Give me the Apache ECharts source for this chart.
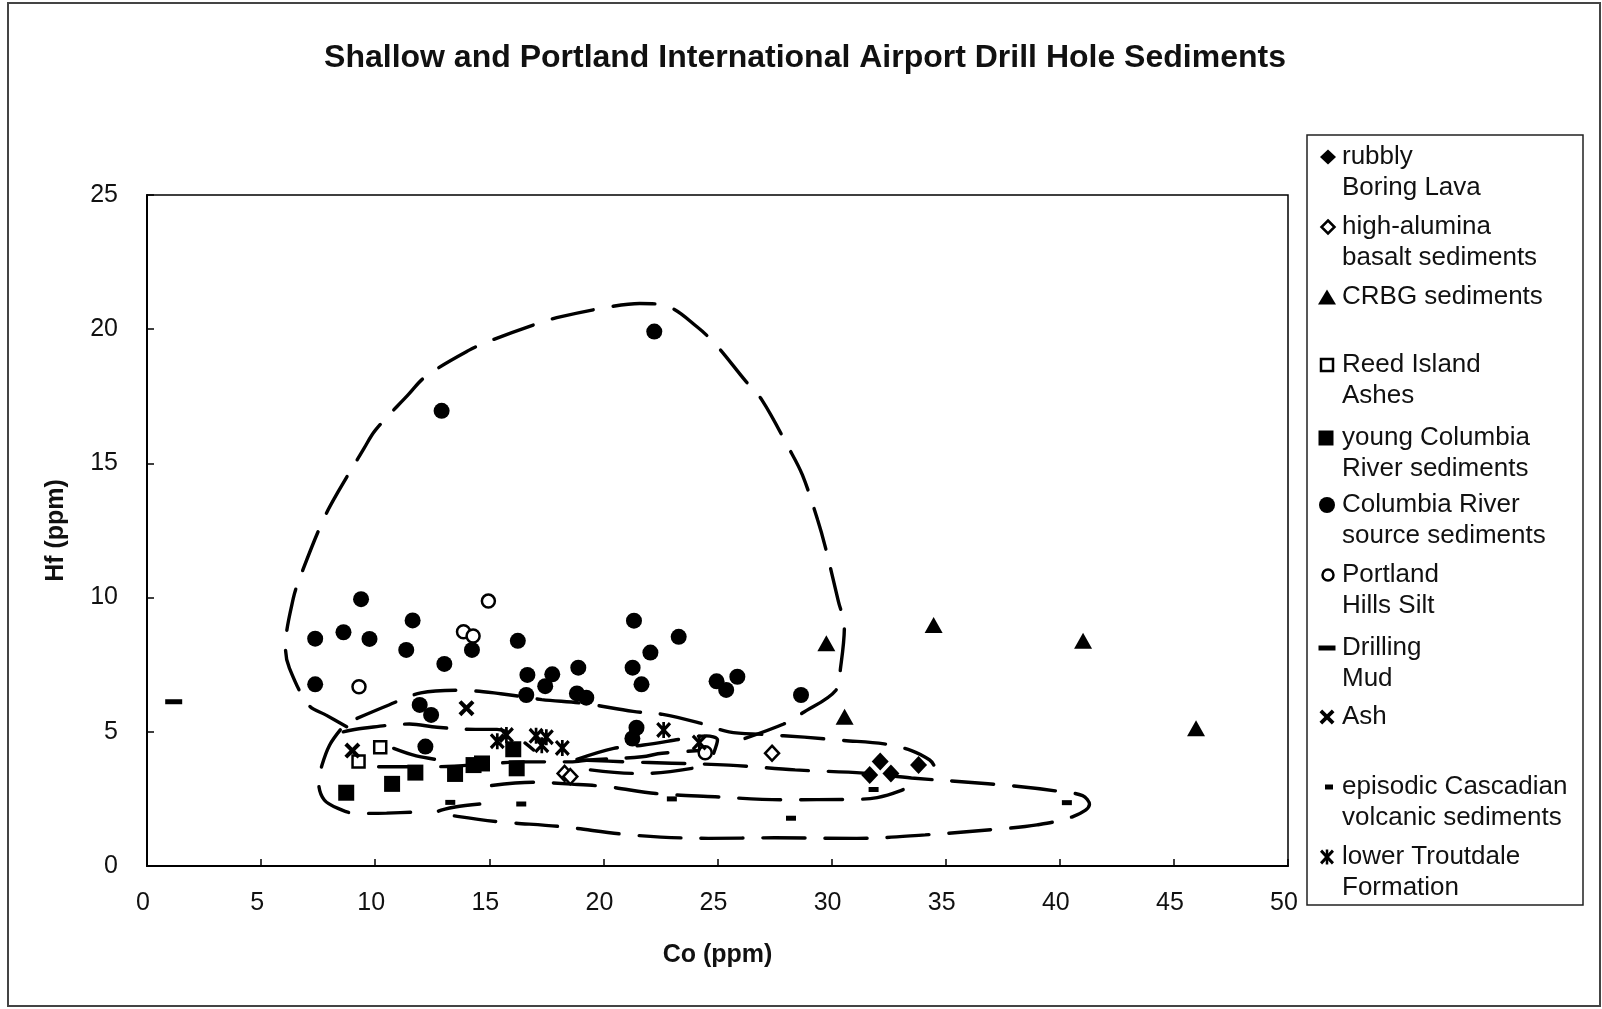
<!DOCTYPE html>
<html>
<head>
<meta charset="utf-8">
<script src="https://cdn.jsdelivr.net/npm/echarts@6/dist/echarts.min.js"></script>
<style>
  html, body { margin: 0; padding: 0; background: #fff; }
  #chart { width: 1602px; height: 1009px; }
</style>
</head>
<body>
<div id="chart"></div>
<script>
// Axis ticks (ppm)
const coTicks = [0, 5, 10, 15, 20, 25, 30, 35, 40, 45, 50];
const hfTicks = [0, 5, 10, 15, 20, 25];

// Samples: [Co ppm, Hf ppm]
const rubblyBoringLava = [[32.13, 3.89], [31.67, 3.39], [32.6, 3.45], [33.81, 3.76]];
const highAluminaBasalt = [[27.39, 4.2], [18.3, 3.45], [18.55, 3.33]];
const crbgSediments = [[29.77, 8.3], [34.47, 8.98], [41.02, 8.39], [30.57, 5.56], [45.97, 5.13]];
const reedIslandAshes = [[10.22, 4.42], [9.27, 3.89]];
const youngColumbiaRiver = [[8.73, 2.73], [10.74, 3.06], [11.76, 3.48], [13.5, 3.43], [14.31, 3.76],
  [14.68, 3.82], [16.05, 4.35], [16.2, 3.64]];
const columbiaRiverSource = [[22.23, 19.91], [12.91, 16.96], [9.38, 9.94], [7.37, 8.47], [8.61, 8.71],
  [9.75, 8.46], [11.64, 9.15], [11.36, 8.05], [13.03, 7.53], [14.24, 8.05], [16.25, 8.39], [7.37, 6.77],
  [21.34, 9.14], [23.3, 8.54], [22.06, 7.95], [21.28, 7.39], [21.67, 6.77], [18.9, 7.39], [16.67, 7.12],
  [17.76, 7.14], [16.62, 6.37], [17.45, 6.7], [18.84, 6.43], [19.25, 6.27], [24.96, 6.88], [25.87, 7.05],
  [25.38, 6.56], [28.66, 6.37], [11.95, 6.0], [12.45, 5.63], [12.2, 4.45], [21.45, 5.15], [21.27, 4.75]];
const portlandHillsSilt = [[14.96, 9.87], [13.87, 8.73], [14.29, 8.57], [9.29, 6.68], [24.46, 4.22]];
const drillingMud = [[1.17, 6.12]];
const ashSamples = [[9.0, 4.3], [14.0, 5.88]];
const cascadianVolcanic = [[13.29, 2.37], [16.4, 2.31], [23.0, 2.5], [31.84, 2.85], [28.22, 1.78], [40.31, 2.36]];
const lowerTroutdale = [[15.35, 4.65], [15.75, 4.88], [17.05, 4.85], [17.5, 4.8], [17.3, 4.5], [18.2, 4.4],
  [22.64, 5.07], [24.2, 4.6]];

// Hand-drawn dashed envelopes around sample groups: [Co ppm, Hf ppm]
const envelopeSource = [[8.75, 5.19], [7.83, 5.63], [7.08, 6.0], [6.24, 7.37], [6.07, 8.11], [6.41, 9.97],
  [6.83, 11.03], [7.72, 12.89], [8.34, 13.89], [9.51, 15.56], [10.01, 16.24], [11.44, 17.55], [12.2, 18.23],
  [14.12, 19.22], [15.13, 19.6], [17.15, 20.22], [18.15, 20.47], [20.33, 20.84], [21.59, 20.96],
  [22.84, 20.84], [24.1, 20.09], [24.94, 19.41], [26.2, 18.1], [26.95, 17.36], [28.13, 15.56],
  [28.72, 14.57], [29.39, 12.89], [29.72, 11.9], [30.3, 9.85], [30.56, 8.92], [30.39, 7.37],
  [30.2, 6.56], [28.7, 5.69], [27.9, 5.29], [25.78, 4.63]];
const envelopeUpperBand = [[9.2, 5.5], [10.6, 6.0], [12.0, 6.45], [13.6, 6.55], [15.5, 6.42], [17.3, 6.2],
  [19.1, 6.06], [21.3, 5.76], [22.6, 5.65], [24.25, 5.32], [25.5, 5.0], [27.0, 4.9], [28.8, 4.8],
  [30.5, 4.68], [32.3, 4.55], [33.5, 4.3], [34.3, 3.95], [34.48, 3.76]];
const envelopeCascadian = [[19.0, 3.95], [21.0, 3.88], [23.0, 3.83], [25.5, 3.76], [28.4, 3.58],
  [31.4, 3.46], [33.5, 3.28], [35.7, 3.14], [38.0, 2.98], [39.8, 2.8], [41.0, 2.62], [41.3, 2.3],
  [40.6, 1.85], [39.0, 1.53], [37.2, 1.37], [34.1, 1.16], [31.1, 1.03], [27.5, 1.05], [24.6, 1.03],
  [21.3, 1.15], [18.1, 1.47], [15.4, 1.65], [13.6, 1.85], [12.7, 2.0], [13.5, 2.2], [14.9, 2.33]];
const envelopeLavaBase = [[15.1, 3.0], [16.9, 3.12], [18.6, 3.05], [20.2, 2.95], [22.3, 2.7], [24.9, 2.58],
  [27.8, 2.47], [30.9, 2.48], [32.0, 2.55], [33.0, 2.8], [33.74, 3.1]];
const envelopeYoungLeft = [[8.47, 5.07], [8.0, 4.5], [7.67, 3.76], [7.52, 3.14], [7.77, 2.46], [8.5, 2.1],
  [9.13, 1.96], [10.5, 1.97], [12.05, 2.02]];
const envelopeTroutdaleTop = [[8.6, 5.0], [9.46, 5.13], [11.5, 5.29], [12.71, 5.17], [14.39, 5.09],
  [15.34, 5.09], [16.2, 4.8], [16.94, 4.32]];
const envelopeYoungMid = [[10.15, 3.7], [11.84, 3.7], [12.7, 3.7], [15.12, 3.82], [16.5, 3.88], [18.55, 3.88],
  [19.4, 3.95], [21.69, 4.07], [22.57, 4.2], [24.69, 4.32]];
const envelopeAshLink = [[10.81, 4.38], [11.8, 4.1], [12.85, 3.95]];
const envelopeTroutdaleRight = [[18.84, 3.97], [20.45, 4.38], [21.76, 4.51], [23.66, 4.76], [24.5, 4.85],
  [25.0, 4.7], [24.83, 4.2]];
const envelopeMidLow = [[19.43, 3.58], [21.32, 3.45], [21.9, 3.45], [23.88, 3.64]];

const envelopes = [envelopeSource, envelopeUpperBand, envelopeCascadian, envelopeLavaBase,
  envelopeYoungLeft, envelopeTroutdaleTop, envelopeYoungMid, envelopeAshLink,
  envelopeTroutdaleRight, envelopeMidLow];

const FONT = '"Liberation Sans", Arial, Helvetica, sans-serif';
const INK = '#111';

// Cross and asterisk outlines on a 10x10 box
const crossPts = [[1.8, 0], [5, 3.2], [8.2, 0], [10, 1.8], [6.8, 5], [10, 8.2], [8.2, 10], [5, 6.8],
  [1.8, 10], [0, 8.2], [3.2, 5], [0, 1.8]];
const starCrossPts = [[1.5, 0], [5, 3.5], [8.5, 0], [10, 1.5], [6.5, 5], [10, 8.5], [8.5, 10], [5, 6.5],
  [1.5, 10], [0, 8.5], [3.5, 5], [0, 1.5]];
const barPts = [[4.1, 0], [5.9, 0], [5.9, 10], [4.1, 10]];
function toPath(list) {
  return list.map(function (p, i) { return (i ? 'L' : 'M') + p[0] + ',' + p[1]; }).join(' ') + ' Z';
}
const CROSS_SYMBOL = 'path://' + toPath(crossPts);
const STAR_SYMBOL = 'path://' + toPath(starCrossPts) + ' ' + toPath(barPts);

const filled = { color: '#000', opacity: 1 };
const hollow = { color: '#fff', borderColor: '#000', borderWidth: 2.5, opacity: 1 };

function scatter(name, data, symbol, size, style) {
  return {
    name: name, type: 'scatter', data: data, symbol: symbol, symbolSize: size,
    itemStyle: style, z: 5, silent: true, animation: false
  };
}

const series = envelopes.map(function (pts) {
  return {
    type: 'line', data: pts, smooth: 0.35, symbol: 'none', showSymbol: false, silent: true,
    animation: false, z: 2,
    lineStyle: { color: '#000', width: 3.4, type: [42, 20], cap: 'round', opacity: 1 }
  };
}).concat([
  scatter('rubbly Boring Lava', rubblyBoringLava, 'diamond', [17, 18], filled),
  scatter('high-alumina basalt sediments', highAluminaBasalt, 'diamond', [14, 15], hollow),
  scatter('CRBG sediments', crbgSediments, 'triangle', [18, 16], filled),
  scatter('Reed Island Ashes', reedIslandAshes, 'rect', [12, 12], hollow),
  scatter('young Columbia River sediments', youngColumbiaRiver, 'rect', [16, 16], filled),
  scatter('Columbia River source sediments', columbiaRiverSource, 'circle', 16, filled),
  scatter('Portland Hills Silt', portlandHillsSilt, 'circle', 13, hollow),
  scatter('Drilling Mud', drillingMud, 'rect', [17, 5], filled),
  scatter('Ash', ashSamples, CROSS_SYMBOL, [16, 16], filled),
  scatter('episodic Cascadian volcanic sediments', cascadianVolcanic, 'rect', [10, 5], filled),
  scatter('lower Troutdale Formation', lowerTroutdale, STAR_SYMBOL, [15, 16], filled)
]);

// Legend panel
const LEG = { x: 1307, y: 135, w: 276, h: 770, textX: 1342, lineH: 30.5, font: 26 };
const legendEntries = [
  { y: 157, text: 'rubbly\nBoring Lava', icon: 'diamond', fill: true, w: 16, h: 15, cx: 1328 },
  { y: 227, text: 'high-alumina\nbasalt sediments', icon: 'diamond', fill: false, w: 13, h: 13, cx: 1328 },
  { y: 297, text: 'CRBG sediments', icon: 'triangle', fill: true, w: 18, h: 15, cx: 1327 },
  { y: 365, text: 'Reed Island\nAshes', icon: 'rect', fill: false, w: 12, h: 12, cx: 1327 },
  { y: 438, text: 'young Columbia\nRiver sediments', icon: 'rect', fill: true, w: 15, h: 15, cx: 1326 },
  { y: 505, text: 'Columbia River\nsource sediments', icon: 'circle', fill: true, w: 16, h: 16, cx: 1327 },
  { y: 575, text: 'Portland\nHills Silt', icon: 'circle', fill: false, w: 11, h: 11, cx: 1328 },
  { y: 648, text: 'Drilling\nMud', icon: 'rect', fill: true, w: 17, h: 5, cx: 1327 },
  { y: 717, text: 'Ash', icon: 'cross', fill: true, w: 15, h: 15, cx: 1327 },
  { y: 787, text: 'episodic Cascadian\nvolcanic sediments', icon: 'rect', fill: true, w: 8, h: 5, cx: 1329 },
  { y: 857, text: 'lower Troutdale\nFormation', icon: 'star', fill: true, w: 14, h: 15, cx: 1327 }
];

function scalePts(list, cx, cy, w, h) {
  return list.map(function (p) { return [cx - w / 2 + p[0] * w / 10, cy - h / 2 + p[1] * h / 10]; });
}

function legendIcon(e) {
  const cx = e.cx, cy = e.y, w = e.w, h = e.h;
  const style = e.fill ? { fill: '#000' } : { fill: '#fff', stroke: '#000', lineWidth: 2.5 };
  switch (e.icon) {
    case 'diamond':
      return [{ type: 'polygon', shape: { points: [[cx, cy - h / 2], [cx + w / 2, cy], [cx, cy + h / 2], [cx - w / 2, cy]] }, style: style }];
    case 'triangle':
      return [{ type: 'polygon', shape: { points: [[cx, cy - h / 2], [cx + w / 2, cy + h / 2], [cx - w / 2, cy + h / 2]] }, style: style }];
    case 'rect':
      return [{ type: 'rect', shape: { x: cx - w / 2, y: cy - h / 2, width: w, height: h }, style: style }];
    case 'circle':
      return [{ type: 'circle', shape: { cx: cx, cy: cy, r: w / 2 }, style: style }];
    case 'cross':
      return [{ type: 'polygon', shape: { points: scalePts(crossPts, cx, cy, w, h) }, style: style }];
    case 'star':
      return [
        { type: 'polygon', shape: { points: scalePts(starCrossPts, cx, cy, w, h) }, style: style },
        { type: 'polygon', shape: { points: scalePts(barPts, cx, cy, w, h) }, style: style }
      ];
  }
  return [];
}

const graphics = [
  // outer frame of the figure
  { type: 'rect', z: 0, silent: true, shape: { x: 8, y: 3, width: 1592, height: 1003 },
    style: { fill: 'none', stroke: '#444', lineWidth: 2 } },
  { type: 'rect', z: 10, silent: true, shape: { x: LEG.x, y: LEG.y, width: LEG.w, height: LEG.h },
    style: { fill: '#fff', stroke: '#222', lineWidth: 1.5 } }
];
legendEntries.forEach(function (e) {
  legendIcon(e).forEach(function (g) { g.z = 11; g.silent = true; graphics.push(g); });
  graphics.push({
    type: 'text', z: 11, silent: true, x: LEG.textX, y: e.y - LEG.lineH / 2,
    style: {
      text: e.text, fill: INK, font: LEG.font + 'px ' + FONT, lineHeight: LEG.lineH,
      verticalAlign: 'top', align: 'left'
    }
  });
});

const chart = echarts.init(document.getElementById('chart'), null, { renderer: 'canvas' });
chart.setOption({
  backgroundColor: '#fff',
  animation: false,
  title: {
    text: 'Shallow and Portland International Airport Drill Hole Sediments',
    left: 800, top: 37, textAlign: 'center',
    textStyle: { fontFamily: FONT, fontSize: 32, fontWeight: 'bold', color: INK }
  },
  grid: {
    left: 147, top: 195, width: 1141, height: 671,
    show: true, borderColor: '#000', borderWidth: 1.5, backgroundColor: 'transparent'
  },
  xAxis: {
    type: 'value',
    min: coTicks[0], max: coTicks[coTicks.length - 1], interval: coTicks[1] - coTicks[0],
    name: 'Co (ppm)', nameLocation: 'middle', nameGap: 77,
    nameTextStyle: { fontFamily: FONT, fontSize: 25, fontWeight: 'bold', color: INK },
    axisLine: { show: true, onZero: false, lineStyle: { color: '#000', width: 2 } },
    axisTick: { show: true, inside: true, length: 7, lineStyle: { color: '#000', width: 1.5 } },
    axisLabel: { fontFamily: FONT, fontSize: 25, color: INK, margin: 25, padding: [0, 8, 0, 0] },
    splitLine: { show: false }
  },
  yAxis: {
    type: 'value',
    min: hfTicks[0], max: hfTicks[hfTicks.length - 1], interval: hfTicks[1] - hfTicks[0],
    name: 'Hf (ppm)', nameLocation: 'middle', nameGap: 78, nameRotate: 90,
    nameTextStyle: { fontFamily: FONT, fontSize: 25, fontWeight: 'bold', color: INK },
    axisLine: { show: true, onZero: false, lineStyle: { color: '#000', width: 2 } },
    axisTick: { show: true, inside: true, length: 7, lineStyle: { color: '#000', width: 1.5 } },
    axisLabel: { fontFamily: FONT, fontSize: 25, color: INK, margin: 29 },
    splitLine: { show: false }
  },
  tooltip: { show: false },
  series: series,
  graphic: graphics
});
</script>
</body>
</html>
